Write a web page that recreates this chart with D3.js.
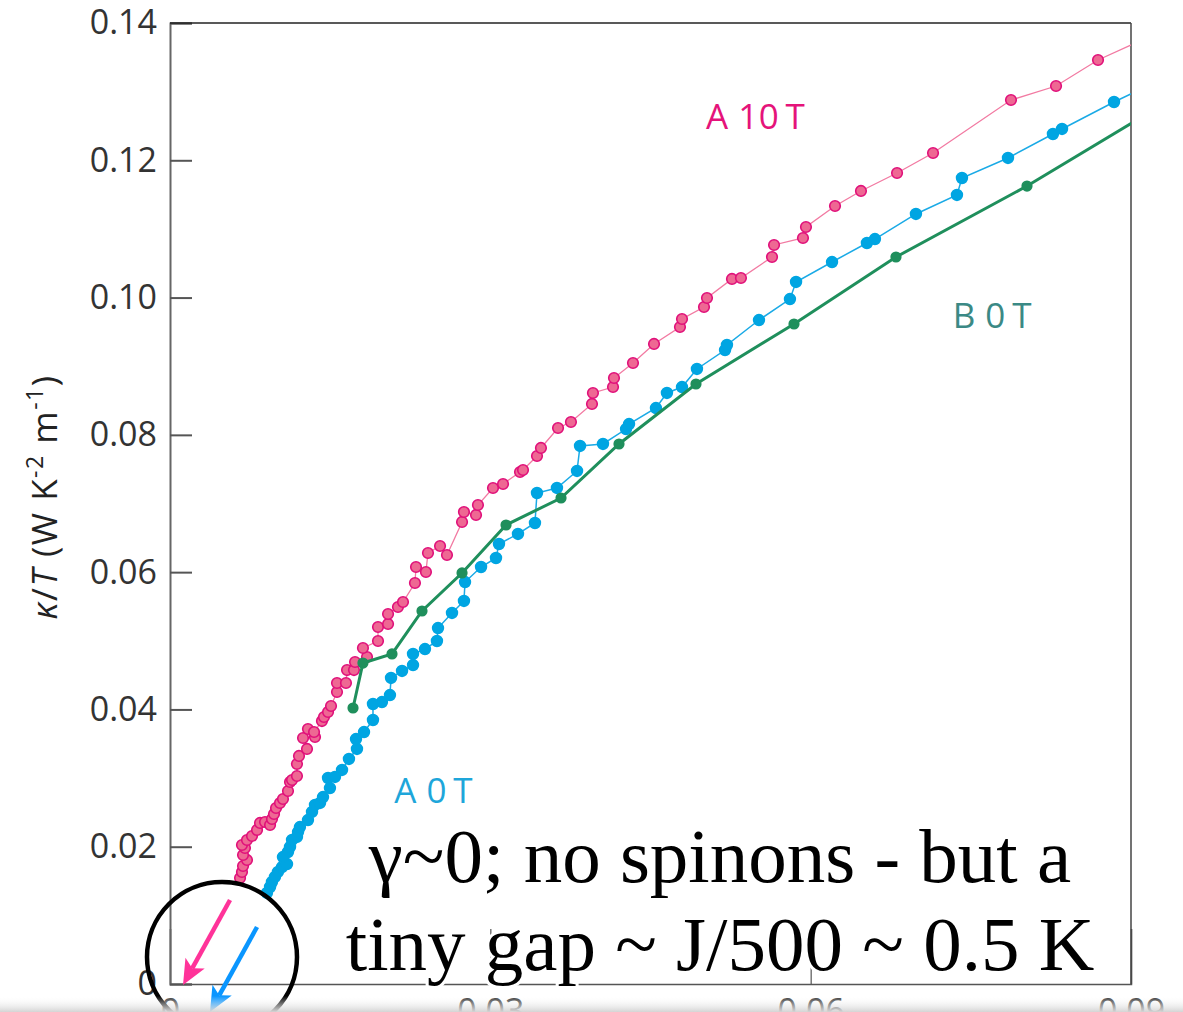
<!DOCTYPE html>
<html lang="en">
<head>
  <meta charset="UTF-8">
  <title>kappa/T vs T^2</title>
  <script src="https://d3js.org/d3.v7.min.js"></script>
  <style>
    body {
      margin: 0;
      background: #fff;
      overflow: hidden;
    }
    svg {
      display: block;
      font-family: "Open Sans", sans-serif;
    }
    .tick text {
      fill: #333;
      font-family: "Open Sans", sans-serif;
      font-size: 34px;
    }
    .series-label {
      font-family: "Open Sans", sans-serif;
      font-size: 35px;
      letter-spacing: 0.5px;
    }
    .note {
      font-family: "Liberation Serif", "DejaVu Serif", serif;
      font-size: 77px;
      fill: #000;
      stroke: #fff;
      stroke-width: 6px;
      paint-order: stroke;
    }
  </style>
</head>
<body>
  <svg width="1183" height="1012"></svg>

  <script>
    // A 10T (pink), in order of measurement
    const a10x = [0.00656, 0.00674, 0.00684, 0.00721, 0.00684, 0.00702, 0.00674, 0.00721, 0.00768, 0.00815,
      0.00843, 0.00890, 0.00937, 0.00955, 0.00974, 0.00993, 0.01030, 0.01058, 0.01105, 0.01124,
      0.01143, 0.01189, 0.01189, 0.01208, 0.01283, 0.01246, 0.01292, 0.01358, 0.01349, 0.01423,
      0.01442, 0.01480, 0.01508, 0.01564, 0.01564, 0.01648, 0.01658, 0.01723, 0.01733, 0.01845,
      0.01807, 0.01948, 0.01948, 0.02042, 0.02042, 0.02135, 0.02182, 0.02294, 0.02304, 0.02397,
      0.02416, 0.02529, 0.02594, 0.02735, 0.02753, 0.02866, 0.02884, 0.03025, 0.03119, 0.03278,
      0.03306, 0.03437, 0.03474, 0.03634, 0.03755, 0.03952, 0.03961, 0.04149, 0.04158, 0.04336,
      0.04533, 0.04776, 0.04795, 0.05001, 0.05029, 0.05263, 0.05347, 0.05638, 0.05657, 0.05928,
      0.05956, 0.06228, 0.06471, 0.06809, 0.07146, 0.07876, 0.08298, 0.08691, 0.09271];
    const a10y = [0.01544, 0.01632, 0.01719, 0.01807, 0.01879, 0.01981, 0.02025, 0.02098, 0.02156, 0.02244,
      0.02346, 0.02360, 0.02316, 0.02404, 0.02477, 0.02564, 0.02637, 0.02695, 0.02812, 0.02943,
      0.02972, 0.03030, 0.03205, 0.03322, 0.03424, 0.03584, 0.03715, 0.03598, 0.03671, 0.03831,
      0.03890, 0.03963, 0.04050, 0.04254, 0.04385, 0.04385, 0.04574, 0.04574, 0.04691, 0.04764,
      0.04895, 0.04997, 0.05201, 0.05245, 0.05390, 0.05492, 0.05565, 0.05842, 0.06075, 0.06002,
      0.06279, 0.06381, 0.06250, 0.06731, 0.06876, 0.06833, 0.06978, 0.07226, 0.07284, 0.07459,
      0.07488, 0.07692, 0.07809, 0.08100, 0.08187, 0.08450, 0.08610, 0.08697, 0.08828, 0.09047,
      0.09324, 0.09571, 0.09688, 0.09863, 0.09994, 0.10271, 0.10285, 0.10591, 0.10766, 0.10868,
      0.11028, 0.11334, 0.11553, 0.11815, 0.12106, 0.12878, 0.13082, 0.13461, 0.13869];

    // A 0T (blue)
    const a0x = [0.00908, 0.00937, 0.00955, 0.00983, 0.01011, 0.01049, 0.01096, 0.01058, 0.01105, 0.01124,
      0.01143, 0.01189, 0.01199, 0.01217, 0.01292, 0.01330, 0.01358, 0.01405, 0.01433, 0.01498,
      0.01480, 0.01545, 0.01611, 0.01676, 0.01751, 0.01742, 0.01817, 0.01901, 0.01901, 0.01985,
      0.02060, 0.02070, 0.02173, 0.02276, 0.02276, 0.02388, 0.02500, 0.02510, 0.02641, 0.02753,
      0.02763, 0.02913, 0.03053, 0.03081, 0.03259, 0.03418, 0.03437, 0.03624, 0.03812, 0.03840,
      0.04055, 0.04271, 0.04299, 0.04551, 0.04654, 0.04795, 0.04935, 0.05198, 0.05216, 0.05516,
      0.05806, 0.05863, 0.06200, 0.06527, 0.06602, 0.06986, 0.07370, 0.07417, 0.07848, 0.08269,
      0.08354, 0.08841, 0.09271];
    const a0y = [0.01326, 0.01413, 0.01486, 0.01559, 0.01632, 0.01704, 0.01748, 0.01850, 0.01923, 0.01996,
      0.02098, 0.02142, 0.02214, 0.02287, 0.02389, 0.02506, 0.02608, 0.02637, 0.02724, 0.02855,
      0.03001, 0.03016, 0.03118, 0.03278, 0.03424, 0.03569, 0.03671, 0.03846, 0.04079, 0.04108,
      0.04210, 0.04458, 0.04560, 0.04647, 0.04808, 0.04880, 0.04997, 0.05186, 0.05405, 0.05580,
      0.05856, 0.06075, 0.06206, 0.06410, 0.06556, 0.06716, 0.07153, 0.07226, 0.07474, 0.07838,
      0.07867, 0.08085, 0.08158, 0.08391, 0.08610, 0.08697, 0.08960, 0.09236, 0.09309, 0.09673,
      0.09979, 0.10227, 0.10518, 0.10795, 0.10853, 0.11218, 0.11495, 0.11742, 0.12034, 0.12383,
      0.12456, 0.12849, 0.13170];

    // B 0T (green)
    const b0x = [0.01714, 0.01807, 0.02079, 0.02360, 0.02735, 0.03147, 0.03662, 0.04205, 0.04926, 0.05844,
      0.06799, 0.08026, 0.09271];
    const b0y = [0.04021, 0.04676, 0.04808, 0.05434, 0.05988, 0.06687, 0.07080, 0.07867, 0.08741, 0.09615,
      0.10591, 0.11625, 0.12791];

    const yTicks = [0, 0.02, 0.04, 0.06, 0.08, 0.10, 0.12, 0.14];
    const yTickLabels = ["0", "0.02", "0.04", "0.06", "0.08", "0.10", "0.12", "0.14"];
    const xTicks = [0, 0.03, 0.06, 0.09];
    const xTickLabels = ["0", "0.03", "0.06", "0.09"];

    const noteLines = ["\u03b3~0; no spinons - but a", "tiny gap ~ J/500 ~ 0.5 K"];

    const svg = d3.select("svg");
    const plotLeft = 170, plotRight = 1131, plotTop = 23, plotBottom = 984;

    const x = d3.scaleLinear().domain([0, 0.09]).range([plotLeft, plotRight]);
    const y = d3.scaleLinear().domain([0, 0.14]).range([plotBottom, plotTop]);

    const defs = svg.append("defs");
    defs.append("clipPath").attr("id", "plot-clip")
      .append("rect")
      .attr("x", plotLeft).attr("y", plotTop)
      .attr("width", plotRight - plotLeft).attr("height", plotBottom - plotTop);

    // x axis (inward ticks, labels below - cut off by the window)
    const xAxis = svg.append("g")
      .attr("transform", `translate(0,${plotBottom})`)
      .call(d3.axisBottom(x)
        .tickValues(xTicks)
        .tickFormat((d, i) => xTickLabels[i])
        .tickSize(-55)
        .tickPadding(15));
    xAxis.select(".domain").attr("stroke", "#555").attr("stroke-width", 1.5);
    xAxis.selectAll(".tick line").attr("stroke", "#555").attr("stroke-width", 1.2);

    // y axis
    const yAxis = svg.append("g")
      .attr("transform", `translate(${plotLeft},0)`)
      .call(d3.axisLeft(y)
        .tickValues(yTicks)
        .tickFormat((d, i) => yTickLabels[i])
        .tickSize(-22)
        .tickPadding(13));
    yAxis.select(".domain").attr("stroke", "#666").attr("stroke-width", 2);
    yAxis.selectAll(".tick line").attr("stroke", "#555").attr("stroke-width", 2);
    yAxis.selectAll(".tick text").attr("text-anchor", "end");

    // frame top / right
    svg.append("line")
      .attr("x1", plotLeft).attr("x2", plotRight).attr("y1", plotTop).attr("y2", plotTop)
      .attr("stroke", "#222").attr("stroke-width", 1.5);
    svg.append("line")
      .attr("x1", plotRight).attr("x2", plotRight).attr("y1", plotTop).attr("y2", plotBottom)
      .attr("stroke", "#444").attr("stroke-width", 1.5);

    // y axis title
    const yTitle = svg.append("text")
      .attr("transform", "translate(57,497) rotate(-90)")
      .attr("text-anchor", "middle")
      .attr("font-family", "Open Sans, sans-serif")
      .attr("font-size", 35)
      .attr("letter-spacing", 1.5)
      .attr("fill", "#222");
    yTitle.append("tspan").attr("font-style", "italic").text("\u03ba");
    yTitle.append("tspan").text("/");
    yTitle.append("tspan").attr("font-style", "italic").text("T");
    yTitle.append("tspan").text(" (W K");
    yTitle.append("tspan").attr("font-size", 23).attr("dy", -14).text("-2");
    yTitle.append("tspan").attr("dy", 14).text(" m");
    yTitle.append("tspan").attr("font-size", 23).attr("dy", -14).text("-1");
    yTitle.append("tspan").attr("dy", 14).text(")");

    const plot = svg.append("g").attr("clip-path", "url(#plot-clip)");
    const line = d3.line().x(d => x(d[0])).y(d => y(d[1]));

    const series = [
      { xs: a10x, ys: a10y, line: "#f27aa2", lw: 1.3, fill: "#ee6893", stroke: "#e0107a", r: 5.3 },
      { xs: a0x, ys: a0y, line: "#1aaae6", lw: 1.5, fill: "#00a5e2", stroke: "#00a5e2", r: 5.4 },
      { xs: b0x, ys: b0y, line: "#1f8f5c", lw: 3, fill: "#1f8f5c", stroke: "#1f8f5c", r: 4.8 }
    ];

    series.forEach(s => {
      const pts = s.xs.map((v, i) => [v, s.ys[i]]);
      plot.append("path")
        .datum(pts)
        .attr("d", line)
        .attr("fill", "none")
        .attr("stroke", s.line)
        .attr("stroke-width", s.lw);
      plot.selectAll(null)
        .data(pts)
        .join("circle")
        .attr("cx", d => x(d[0]))
        .attr("cy", d => y(d[1]))
        .attr("r", s.r)
        .attr("fill", s.fill)
        .attr("stroke", s.stroke)
        .attr("stroke-width", 1.6);
    });

    // series labels
    const labels = [
      { t: "A 10\u2009T", x: 0.0502, y: 0.1245, c: "#e5137a" },
      { t: "B 0\u2009T", x: 0.0733, y: 0.0955, c: "#3b8985" },
      { t: "A 0\u2009T", x: 0.0210, y: 0.0263, c: "#1ea6da" }
    ];
    svg.selectAll(".series-label")
      .data(labels)
      .join("text")
      .attr("class", "series-label")
      .attr("x", d => x(d.x))
      .attr("y", d => y(d.y))
      .attr("fill", d => d.c)
      .text(d => d.t);

    // annotation
    svg.selectAll(".note")
      .data(noteLines)
      .join("text")
      .attr("class", "note")
      .attr("text-anchor", "middle")
      .attr("x", 720)
      .attr("y", (d, i) => 882 + i * 88)
      .text(d => d);

    // circle with arrows toward the origin
    svg.append("circle")
      .attr("cx", 222).attr("cy", 957).attr("r", 75)
      .attr("fill", "none").attr("stroke", "#000").attr("stroke-width", 4.5);

    const arrows = [
      { x1: 230, y1: 900, x2: 183, y2: 985, c: "#ff3399" },
      { x1: 257, y1: 927, x2: 210, y2: 1012, c: "#0a96ff" }
    ];
    arrows.forEach(a => {
      const dx = a.x2 - a.x1, dy = a.y2 - a.y1;
      const len = Math.hypot(dx, dy);
      const ux = dx / len, uy = dy / len;
      const px = -uy, py = ux;
      const headLen = 25, halfW = 11, notch = 6;
      const bx = a.x2 - ux * headLen, by = a.y2 - uy * headLen;
      const nx = a.x2 - ux * (headLen - notch), ny = a.y2 - uy * (headLen - notch);
      svg.append("line")
        .attr("x1", a.x1).attr("y1", a.y1)
        .attr("x2", nx).attr("y2", ny)
        .attr("stroke", a.c)
        .attr("stroke-width", 4.5);
      svg.append("path")
        .attr("d", `M${a.x2},${a.y2} L${bx + px * halfW},${by + py * halfW} L${nx},${ny} L${bx - px * halfW},${by - py * halfW} Z`)
        .attr("fill", a.c);
    });

    // faint shadow strip along the bottom edge
    const grad = defs.append("linearGradient")
      .attr("id", "shade").attr("x1", 0).attr("x2", 0).attr("y1", 0).attr("y2", 1);
    grad.append("stop").attr("offset", "0%").attr("stop-color", "#fff").attr("stop-opacity", 0);
    grad.append("stop").attr("offset", "100%").attr("stop-color", "#d4d4d4").attr("stop-opacity", 1);
    svg.append("rect")
      .attr("x", 0).attr("y", 996).attr("width", 1183).attr("height", 16)
      .attr("fill", "url(#shade)");
  </script>
</body>
</html>
